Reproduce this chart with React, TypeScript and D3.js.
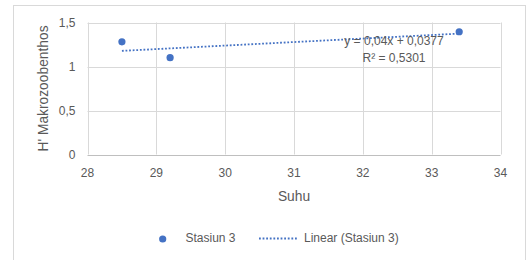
import React from 'react';
import * as d3 from 'd3';

// Data
const suhu = [28.5, 29.2, 33.4];
const hValues = [1.28, 1.1, 1.395];
const xTicks = [28, 29, 30, 31, 32, 33, 34];
const yTicks = [0, 0.5, 1, 1.5];
const slope = 0.04;
const intercept = 0.0377;
const rSquared = '0,5301';

const W = 530;
const H = 260;
const FONT = '"Liberation Sans", Arial, sans-serif';
const TEXT = '#595959';
const GRID = '#d9d9d9';
const BLUE = '#4472C4';
const FS = 12;
const TITLE_FS = 13.8;

const App: React.FC = () => {
  const margin = { left: 87.5, right: 29.5, top: 22.5, bottom: 105.5 };
  const x = d3.scaleLinear().domain([28, 34]).range([margin.left, W - margin.right]);
  const y = d3.scaleLinear().domain([0, 1.5]).range([H - margin.bottom, margin.top]);

  const fmt = (v: number) => String(v).replace('.', ',');

  const trendX = [d3.min(suhu)!, d3.max(suhu)!];
  const trendLine = d3.line<number>()
    .x(d => x(d))
    .y(d => y(slope * d + intercept));

  const plotTop = y(1.5);
  const plotBottom = y(0);

  return (
    <svg width={W} height={H} style={{ position: 'absolute', left: 0, top: 0 }} fontFamily={FONT}>
      <rect x={0} y={0} width={W} height={H} fill="#fff" />
      <rect x={13.5} y={5.5} width={512} height={270} fill="#fff" stroke="#d9d9d9" />

      {/* grid */}
      {yTicks.map(t => (
        <line key={'gy' + t} x1={x(28)} x2={x(34)} y1={Math.round(y(t)) + 0.5} y2={Math.round(y(t)) + 0.5}
          stroke={t === 0 ? '#bfbfbf' : GRID} />
      ))}
      {xTicks.map(t => (
        <line key={'gx' + t} x1={Math.round(x(t)) + 0.5} x2={Math.round(x(t)) + 0.5} y1={plotTop} y2={plotBottom}
          stroke={GRID} />
      ))}

      {/* y tick labels */}
      {yTicks.map(t => (
        <text key={'ty' + t} x={x(28) - 12} y={y(t)} dy="0.35em" textAnchor="end" fontSize={FS} fill={TEXT}>
          {fmt(t)}
        </text>
      ))}
      {/* x tick labels */}
      {xTicks.map(t => (
        <text key={'tx' + t} x={x(t)} y={plotBottom + 18} dy="0.35em" textAnchor="middle" fontSize={FS} fill={TEXT}>
          {t}
        </text>
      ))}

      {/* axis titles */}
      <text x={(x(28) + x(34)) / 2} y={plotBottom + 42} dy="0.35em" textAnchor="middle" fontSize={TITLE_FS} fill={TEXT}>
        Suhu
      </text>
      <text transform={`translate(43,${(plotTop + plotBottom) / 2}) rotate(-90)`} dy="0.35em" textAnchor="middle"
        fontSize={TITLE_FS} fill={TEXT}>
        H' Makrozoobenthos
      </text>

      {/* trendline */}
      <path d={trendLine(trendX) || ''} fill="none" stroke={BLUE} strokeWidth={1.8} strokeDasharray="1.8,1.8" />

      {/* points */}
      {suhu.map((s, i) => (
        <circle key={'p' + i} cx={x(s)} cy={y(hValues[i])} r={3.6} fill={BLUE} />
      ))}

      {/* equation */}
      <text x={394} y={41} dy="0.35em" textAnchor="middle" fontSize={FS} fill={TEXT}>
        {`y = ${fmt(slope)}x + ${fmt(intercept)}`}
      </text>
      <text x={394} y={58} dy="0.35em" textAnchor="middle" fontSize={FS} fill={TEXT}>
        {`R² = ${rSquared}`}
      </text>

      {/* legend */}
      <circle cx={162.7} cy={239} r={3.6} fill={BLUE} />
      <text x={185.5} y={238} dy="0.35em" fontSize={FS} fill={TEXT}>Stasiun 3</text>
      <line x1={259} x2={298} y1={238.5} y2={238.5} stroke={BLUE} strokeWidth={1.8} strokeDasharray="1.8,1.8" />
      <text x={304} y={238} dy="0.35em" fontSize={FS} fill={TEXT}>Linear (Stasiun 3)</text>
    </svg>
  );
};

export default App;
